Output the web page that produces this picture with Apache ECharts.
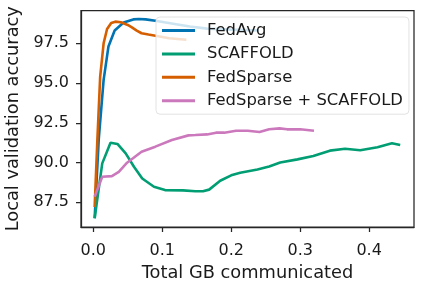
<!DOCTYPE html>
<html>
<head>
<meta charset="utf-8">
<script src="https://cdn.jsdelivr.net/npm/echarts@6/dist/echarts.min.js"></script>
<style>html,body{margin:0;padding:0;background:#fff}#c{width:421px;height:286px}</style>
</head>
<body>
<div id="c"></div>
<script>
var seriesNames = ['FedAvg', 'SCAFFOLD', 'FedSparse', 'FedSparse + SCAFFOLD'];
var xTicks = [0.0, 0.1, 0.2, 0.3, 0.4];
var yTicks = [87.5, 90.0, 92.5, 95.0, 97.5];

var fedAvgX = [0.002, 0.008, 0.015, 0.022, 0.031, 0.044, 0.058, 0.066, 0.076, 0.09, 0.103, 0.12, 0.14, 0.165, 0.2, 0.24];
var fedAvgY = [86.5, 91.5, 95.2, 97.3, 98.3, 98.8, 99.0, 99.03, 99.0, 98.92, 98.82, 98.7, 98.55, 98.42, 98.36, 98.3];

var scaffoldX = [0.002, 0.013, 0.025, 0.035, 0.047, 0.059, 0.071, 0.088, 0.104, 0.13, 0.148, 0.159, 0.168, 0.184, 0.2, 0.213, 0.238, 0.255, 0.271, 0.296, 0.319, 0.343, 0.365, 0.387, 0.412, 0.433, 0.445];
var scaffoldY = [86.5, 89.95, 91.25, 91.17, 90.58, 89.74, 89.0, 88.48, 88.27, 88.25, 88.2, 88.2, 88.3, 88.86, 89.2, 89.36, 89.57, 89.75, 90.0, 90.2, 90.41, 90.75, 90.87, 90.77, 90.96, 91.21, 91.1];

var fedSparseX = [0.002, 0.006, 0.010, 0.015, 0.020, 0.026, 0.032, 0.04, 0.05, 0.056, 0.063, 0.07, 0.08, 0.092, 0.11, 0.135];
var fedSparseY = [87.2, 91.5, 95.4, 97.5, 98.4, 98.78, 98.86, 98.82, 98.65, 98.5, 98.3, 98.13, 98.05, 97.96, 97.82, 97.72];

var comboX = [0.002, 0.013, 0.027, 0.037, 0.049, 0.07, 0.09, 0.114, 0.138, 0.148, 0.165, 0.178, 0.19, 0.207, 0.224, 0.241, 0.255, 0.27, 0.281, 0.3, 0.32];
var comboY = [87.85, 89.11, 89.15, 89.42, 89.99, 90.68, 91.0, 91.42, 91.71, 91.73, 91.77, 91.88, 91.88, 92.0, 92.0, 91.92, 92.09, 92.15, 92.09, 92.09, 92.0];

var colors = ['#0173b2', '#029e73', '#d55e00', '#cc78bc'];

function pairs(xs, ys) { return xs.map(function (x, i) { return [x, ys[i]]; }); }
var allData = [pairs(fedAvgX, fedAvgY), pairs(scaffoldX, scaffoldY), pairs(fedSparseX, fedSparseY), pairs(comboX, comboY)];

var font = 'DejaVu Sans';
var txt = '#1a1a1a';
var chart = echarts.init(document.getElementById('c'), null, {renderer: 'canvas'});
chart.setOption({
  animation: false,
  color: colors,
  grid: {left: 81, right: 7, top: 10.5, bottom: 59, show: true, borderColor: '#262626', borderWidth: 1.25, backgroundColor: 'transparent', outerBoundsMode: 'none', containLabel: false},
  legend: {
    data: seriesNames,
    orient: 'vertical',
    left: 156, top: 17,
    padding: [4, 6, 4, 6],
    itemWidth: 33, itemHeight: 3, itemGap: 4.4,
    icon: 'rect',
    backgroundColor: 'rgba(255,255,255,0.8)',
    borderColor: '#e2e2e2', borderWidth: 1, borderRadius: 4,
    textStyle: {fontFamily: font, fontSize: 16.4, color: txt, lineHeight: 19, padding: [0, 0, 0, 7]}
  },
  xAxis: {
    type: 'value', min: -0.0178, max: 0.465,
    name: 'Total GB communicated', nameLocation: 'middle', nameGap: 30,
    nameTextStyle: {fontFamily: font, fontSize: 17.8, color: txt},
    axisLine: {show: true, onZero: false, lineStyle: {color: '#262626', width: 1.25}},
    axisTick: {show: true, length: 5, lineStyle: {color: '#262626', width: 1.25}, customValues: xTicks},
    axisLabel: {fontFamily: font, fontSize: 16, color: txt, margin: 16, customValues: xTicks, formatter: function (v) { return v.toFixed(1); }},
    splitLine: {show: false}
  },
  yAxis: {
    type: 'value', min: 85.95, max: 99.56,
    name: 'Local validation accuracy', nameLocation: 'middle', nameGap: 59, nameRotate: 90, nameMoveOverlap: false,
    nameTextStyle: {fontFamily: font, fontSize: 17.8, color: txt},
    axisLine: {show: true, onZero: false, lineStyle: {color: '#262626', width: 1.25}},
    axisTick: {show: true, length: 5, lineStyle: {color: '#262626', width: 1.25}, customValues: yTicks},
    axisLabel: {fontFamily: font, fontSize: 16, color: txt, margin: 12, customValues: yTicks, formatter: function (v) { return v.toFixed(1); }},
    splitLine: {show: false}
  },
  series: seriesNames.map(function (n, i) {
    return {name: n, type: 'line', data: allData[i], showSymbol: false, symbol: 'none', lineStyle: {width: 2.6, color: colors[i]}, itemStyle: {color: colors[i]}};
  })
});
</script>
</body>
</html>
